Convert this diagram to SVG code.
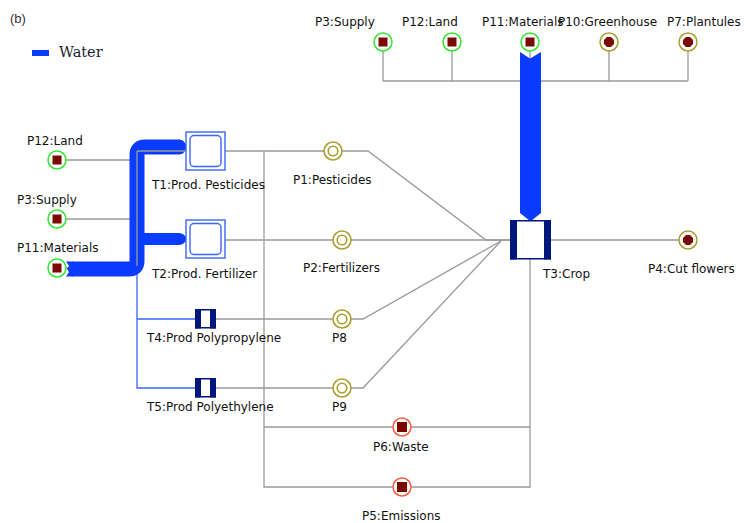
<svg xmlns="http://www.w3.org/2000/svg" width="744" height="523" viewBox="0 0 744 523">
  <style>
    .lbl { font-family: "DejaVu Sans", sans-serif; font-size: 12px; fill: #111; }
    .wire { stroke: #9a9a9a; stroke-width: 1.3; fill: none; }
    .bwire { stroke: #3a66ff; stroke-width: 1.3; fill: none; }
    .water { fill: #0a3cff; }
    .sq { fill: #7a0a00; }
    .ring-src { fill: #fff; stroke: #33e633; stroke-width: 1.5; }
    .ring-mid { fill: #fff; stroke: #ab9d2e; stroke-width: 1.6; }
    .ring-prod { fill: #fff; stroke: #ab9d2e; stroke-width: 1.5; }
    .ring-sink { fill: #fff; stroke: #ff5a3a; stroke-width: 1.5; }
    .navy { fill: #00167a; }
    .box { fill: #fff; stroke: #00167a; stroke-width: 1.5; }
    .pbox { fill: #fff; stroke: #3a66ff; stroke-width: 1.4; }
  </style>
  <defs>
    <g id="srcMark">
      <circle class="ring-src" r="9"/>
      <rect class="sq" x="-4.5" y="-4.5" width="9" height="9"/>
    </g>
    <g id="midMark">
      <circle class="ring-mid" r="9"/>
      <circle class="ring-mid" r="4.8"/>
    </g>
    <g id="prodMark">
      <circle class="ring-prod" r="9"/>
      <polygon class="sq" points="-2,-5 2,-5 5,-2 5,2 2,5 -2,5 -5,2 -5,-2"/>
    </g>
    <g id="sinkMark">
      <circle class="ring-sink" r="9"/>
      <rect class="sq" x="-5" y="-5" width="10" height="10"/>
    </g>
  </defs>

  <rect width="744" height="523" fill="#fff"/>

  <!-- panel tag and legend -->
  <text x="10" y="23" font-family="Liberation Sans, sans-serif" font-size="13" fill="#333">(b)</text>
  <rect x="32" y="50" width="17" height="6" class="water"/>
  <text x="59" y="57" font-family="DejaVu Serif, serif" font-size="14.5" fill="#1c1c2c">Water</text>

  <!-- connectors -->
  <g id="connectors">
    <!-- top inputs to crop -->
    <path class="wire" d="M383 42 V81 M452 42 V81 M609 42 V81 M688 42 V81 M383 81 H688 M530 42 V220"/>
    <!-- left inputs to the production bus -->
    <path class="wire" d="M57 160 H137 M57 219 H137 M57 268 H137 M137 239 H186"/>
    <!-- process outputs -->
    <path class="wire" d="M225 151 H368 L486 240 H510"/>
    <path class="wire" d="M225 240 H510"/>
    <path class="wire" d="M216 319 H363 L501 241"/>
    <path class="wire" d="M216 388 H363 L501 241"/>
    <!-- crop outputs -->
    <path class="wire" d="M551 240 H688"/>
    <path class="wire" d="M264 151 V487 H530 V259 M264 427 H530"/>
    <!-- blue branch to plastic processes -->
    <path class="bwire" d="M137 266 V388 H195 M137 319 H195"/>
  </g>

  <!-- water flows -->
  <g id="water-flows">
    <path d="M72 269 H129 Q137 269 137 261 V155 Q137 147 145 147 H180" fill="none" stroke="#0a3cff" stroke-width="15"/>
    <polygon class="water" points="66,261.5 73,261.5 73,276.5 66,276.5 69,272 67,269 69,266"/>
    <polygon class="water" points="179,139.5 183,140.5 187,145.5 187,148.5 183,153.5 179,154.5"/>
    <rect class="water" x="137" y="233" width="43" height="12"/>
    <polygon class="water" points="179,233 183,234 187,238 187,240 183,244 179,245"/>
    <polygon class="water" points="520,52 530,58.5 541,52 541,213 531,221 530,221 520,213"/>
  </g>
  <!-- bus lines drawn over the water band -->
  <path class="wire" d="M137 151 V266 M137 151 H186"/>

  <!-- processes -->
  <g id="T1">
    <rect class="pbox" x="186" y="132" width="39" height="38"/>
    <rect class="pbox" x="190" y="135.5" width="31" height="31" rx="4"/>
    <text class="lbl" x="152" y="189">T1:Prod. Pesticides</text>
  </g>
  <g id="T2">
    <rect class="pbox" x="186" y="220" width="39" height="38"/>
    <rect class="pbox" x="190" y="223.5" width="31" height="31" rx="4"/>
    <text class="lbl" x="152" y="278">T2:Prod. Fertilizer</text>
  </g>
  <g id="T3">
    <rect class="box" x="510.75" y="220.75" width="39.5" height="38"/>
    <rect class="navy" x="510" y="220" width="7" height="39.5"/>
    <rect class="navy" x="544" y="220" width="7" height="39.5"/>
    <text class="lbl" x="543" y="278">T3:Crop</text>
  </g>
  <g id="T4">
    <rect class="box" x="195.75" y="309.75" width="19.5" height="18"/>
    <rect class="navy" x="195" y="309" width="6" height="19.5"/>
    <rect class="navy" x="210" y="309" width="6" height="19.5"/>
    <text class="lbl" x="147" y="342">T4:Prod Polypropylene</text>
  </g>
  <g id="T5">
    <rect class="box" x="195.75" y="378.75" width="19.5" height="18"/>
    <rect class="navy" x="195" y="378" width="6" height="19.5"/>
    <rect class="navy" x="210" y="378" width="6" height="19.5"/>
    <text class="lbl" x="147" y="411">T5:Prod Polyethylene</text>
  </g>

  <!-- top sources -->
  <g id="P3-top">
    <use href="#srcMark" x="383" y="42"/>
    <text class="lbl" x="315" y="26">P3:Supply</text>
  </g>
  <g id="P12-top">
    <use href="#srcMark" x="452" y="42"/>
    <text class="lbl" x="402" y="26">P12:Land</text>
  </g>
  <g id="P11-top">
    <use href="#srcMark" x="530" y="42"/>
    <text class="lbl" x="482" y="26">P11:Materials</text>
  </g>
  <g id="P10">
    <use href="#prodMark" x="609" y="42"/>
    <text class="lbl" x="558" y="26">P10:Greenhouse</text>
  </g>
  <g id="P7">
    <use href="#prodMark" x="688" y="42"/>
    <text class="lbl" x="667" y="26">P7:Plantules</text>
  </g>

  <!-- left sources -->
  <g id="P12-left">
    <use href="#srcMark" x="57" y="160"/>
    <text class="lbl" x="27" y="145">P12:Land</text>
  </g>
  <g id="P3-left">
    <use href="#srcMark" x="57" y="219"/>
    <text class="lbl" x="17" y="204">P3:Supply</text>
  </g>
  <g id="P11-left">
    <use href="#srcMark" x="57" y="268"/>
    <text class="lbl" x="17" y="252">P11:Materials</text>
  </g>

  <!-- intermediate goods -->
  <g id="P1">
    <use href="#midMark" x="333" y="151"/>
    <text class="lbl" x="293" y="184">P1:Pesticides</text>
  </g>
  <g id="P2">
    <use href="#midMark" x="342" y="240"/>
    <text class="lbl" x="303" y="272">P2:Fertilizers</text>
  </g>
  <g id="P8">
    <use href="#midMark" x="342" y="319"/>
    <text class="lbl" x="332" y="342">P8</text>
  </g>
  <g id="P9">
    <use href="#midMark" x="342" y="388"/>
    <text class="lbl" x="332" y="411">P9</text>
  </g>

  <!-- products and sinks -->
  <g id="P4">
    <use href="#prodMark" x="688" y="240"/>
    <text class="lbl" x="648" y="273">P4:Cut flowers</text>
  </g>
  <g id="P6">
    <use href="#sinkMark" x="402" y="427"/>
    <text class="lbl" x="373" y="451">P6:Waste</text>
  </g>
  <g id="P5">
    <use href="#sinkMark" x="402" y="487"/>
    <text class="lbl" x="362" y="520">P5:Emissions</text>
  </g>
</svg>
